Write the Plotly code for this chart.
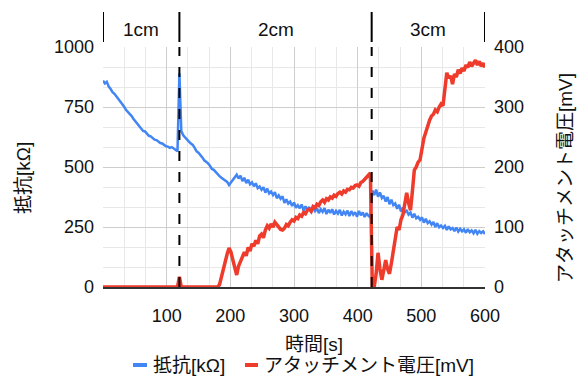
import plotly.graph_objects as go

# Sampling times [s], one reading every 3 s
t_s = list(range(0, 601, 3))

# Resistance [kΩ], left axis
resistance_kohm = [
    860, 848, 855, 835, 825, 812, 805, 795, 785, 770,
    765, 752, 738, 730, 718, 712, 700, 690, 682, 675,
    665, 650, 648, 640, 630, 628, 620, 614, 612, 605,
    600, 598, 590, 586, 585, 580, 583, 578, 572, 566,
    890, 650, 632, 622, 615, 606, 598, 592, 580, 565,
    560, 552, 540, 528, 522, 515, 505, 492, 488, 478,
    470, 462, 455, 450, 445, 438, 425, 436, 448, 458,
    468, 452, 464, 441, 455, 433, 447, 428, 436, 420,
    432, 412, 419, 405, 416, 393, 410, 390, 398, 383,
    395, 370, 382, 368, 378, 350, 365, 348, 356, 338,
    352, 330, 341, 328, 344, 319, 336, 322, 333, 312,
    331, 316, 328, 308, 324, 313, 329, 304, 322, 309,
    324, 302, 317, 306, 321, 298, 314, 303, 318, 296,
    316, 301, 312, 293, 317, 299, 310, 292, 308, 296,
    290, 402, 383, 406, 376, 394, 371, 380, 356, 375,
    345, 364, 341, 348, 326, 343, 315, 331, 311, 318,
    302, 310, 289, 305, 286, 292, 280, 290, 268, 284,
    266, 274, 260, 271, 250, 266, 249, 256, 246, 255,
    238, 253, 240, 246, 233, 248, 231, 242, 232, 240,
    226, 241, 228, 236, 224, 238, 222, 233, 225, 232,
    221,
]

# Attachment voltage [mV], right axis
voltage_mv = [
    0, 0, 0, 0, 0, 0, 0, 0, 0, 0,
    0, 0, 0, 0, 0, 0, 0, 0, 0, 0,
    0, 0, 0, 0, 0, 0, 0, 0, 0, 0,
    0, 0, 0, 0, 0, 0, 0, 0, 0, 0,
    17, 0, 0, 0, 0, 0, 0, 0, 0, 0,
    0, 0, 0, 0, 0, 0, 0, 0, 0, 0,
    0, 4, 18, 30, 40, 55, 65, 58, 45, 30,
    20, 35, 42, 48, 58, 52, 66, 60, 72, 68,
    78, 72, 85, 88, 82, 95, 102, 98, 105, 100,
    108, 104, 100, 96, 95, 98, 104, 102, 108, 112,
    110, 116, 114, 120, 118, 124, 122, 128, 130, 126,
    134, 132, 138, 136, 142, 145, 141, 147, 145, 150,
    148, 153, 151, 156, 158, 155, 160, 158, 163, 162,
    166, 165, 169, 170, 168, 174, 176, 179, 182, 185,
    190, 0, 0, 22, 57, 30, 12, 28, 45, 30,
    22, 40, 60, 85, 100, 95, 112, 120, 140, 157,
    140, 128, 160, 195, 200, 208, 212, 235, 248, 258,
    270, 278, 285, 288, 295, 292, 300, 305, 302, 330,
    357, 348, 352, 338, 355, 350, 362, 356, 365, 360,
    370, 366, 375, 368, 372, 378, 370, 376, 368, 373,
    366,
]

x_ticks = [100, 200, 300, 400, 500, 600]
left_ticks = [0, 250, 500, 750, 1000]
right_ticks = [0, 100, 200, 300, 400]

# Gap distance phases: boundaries [s] and labels
phase_bounds = [0, 120, 422, 600]
phase_labels = ["1cm", "2cm", "3cm"]

series_names = ["抵抗[kΩ]", "アタッチメント電圧[mV]"]
BLUE = "#4285f4"
RED = "#ee3b2b"
FONT = "Liberation Sans, Arial, Noto Sans CJK JP"

W, H = 582, 381
L, R, T, B = 103, 97, 47, 94
PW, PH = W - L - R, H - T - B


def px_x(px):
    return (px - L) / PW


def px_y(py):
    return (H - B - py) / PH


fig = go.Figure()
fig.add_trace(go.Scatter(x=t_s, y=resistance_kohm, mode="lines",
                         line=dict(color=BLUE, width=2.5),
                         name=series_names[0], yaxis="y", showlegend=False))
fig.add_trace(go.Scatter(x=t_s, y=voltage_mv, mode="lines",
                         line=dict(color=RED, width=3.5),
                         name=series_names[1], yaxis="y2", showlegend=False))

shapes = []
# Phase boundary markers: solid bars above the plot, dashed lines inside
for b in phase_bounds:
    shapes.append(dict(type="line", xref="x", yref="paper", x0=b, x1=b,
                       y0=px_y(42), y1=px_y(12),
                       line=dict(color="black", width=2)))
for b in phase_bounds[1:-1]:
    shapes.append(dict(type="line", xref="x", yref="paper", x0=b, x1=b,
                       y0=0, y1=1, layer="above",
                       line=dict(color="black", width=2, dash="10px,11px")))

annotations = []
for i, lab in enumerate(phase_labels):
    annotations.append(dict(text=lab, xref="x", yref="paper",
                            x=(phase_bounds[i] + phase_bounds[i + 1]) / 2,
                            y=px_y(29), showarrow=False,
                            xanchor="center", yanchor="middle",
                            font=dict(size=19, color="#111", family=FONT)))

# Axis titles
annotations.append(dict(text=series_names[0], xref="paper", yref="paper",
                        x=px_x(23), y=px_y(178), textangle=-90, showarrow=False,
                        xanchor="center", yanchor="middle",
                        font=dict(size=19, color="#111", family=FONT)))
annotations.append(dict(text=series_names[1], xref="paper", yref="paper",
                        x=px_x(565), y=px_y(178), textangle=-90, showarrow=False,
                        xanchor="center", yanchor="middle",
                        font=dict(size=19, color="#111", family=FONT)))
annotations.append(dict(text="時間[s]", xref="paper", yref="paper",
                        x=px_x(314), y=px_y(344), showarrow=False,
                        xanchor="center", yanchor="middle",
                        font=dict(size=19, color="#111", family=FONT)))

# Legend: short coloured dashes with labels
legend_items = [(133, 147, 151, BLUE, series_names[0]),
                (245, 258, 262, RED, series_names[1])]
for x0, x1, xt, col, name in legend_items:
    shapes.append(dict(type="line", xref="paper", yref="paper",
                       x0=px_x(x0), x1=px_x(x1), y0=px_y(365), y1=px_y(365),
                       line=dict(color=col, width=4)))
    annotations.append(dict(text=name, xref="paper", yref="paper",
                            x=px_x(xt), y=px_y(365), showarrow=False,
                            xanchor="left", yanchor="middle",
                            font=dict(size=19, color="#111", family=FONT)))

fig.update_layout(
    width=W, height=H, autosize=False,
    margin=dict(l=L, r=R, t=T, b=B, pad=0),
    paper_bgcolor="white", plot_bgcolor="white",
    font=dict(family=FONT, size=18, color="#111"),
    showlegend=False,
    shapes=shapes, annotations=annotations,
    xaxis=dict(range=[0, 600], tickmode="array", tickvals=x_ticks,
               showgrid=True, gridcolor="#cdcdcd", gridwidth=1,
               minor=dict(tickmode="linear", tick0=0, dtick=100 / 3,
                          showgrid=True, gridcolor="#e8e8e8", gridwidth=1),
               showline=True, linecolor="#333", linewidth=1.5,
               zeroline=False, ticks="", ticklabelstandoff=12,
               tickfont=dict(size=18)),
    yaxis=dict(range=[0, 1000], tickmode="array", tickvals=left_ticks,
               showgrid=True, gridcolor="#cdcdcd", gridwidth=1,
               minor=dict(tickmode="linear", tick0=0, dtick=250 / 3,
                          showgrid=True, gridcolor="#e8e8e8", gridwidth=1),
               zeroline=False, showline=False, ticks="",
               ticklabelstandoff=8, tickfont=dict(size=18)),
    yaxis2=dict(range=[0, 400], tickmode="array", tickvals=right_ticks,
                overlaying="y", side="right", showgrid=False,
                zeroline=False, showline=False, ticks="",
                ticklabelstandoff=8, tickfont=dict(size=18)),
)

fig.write_html("out.html")
